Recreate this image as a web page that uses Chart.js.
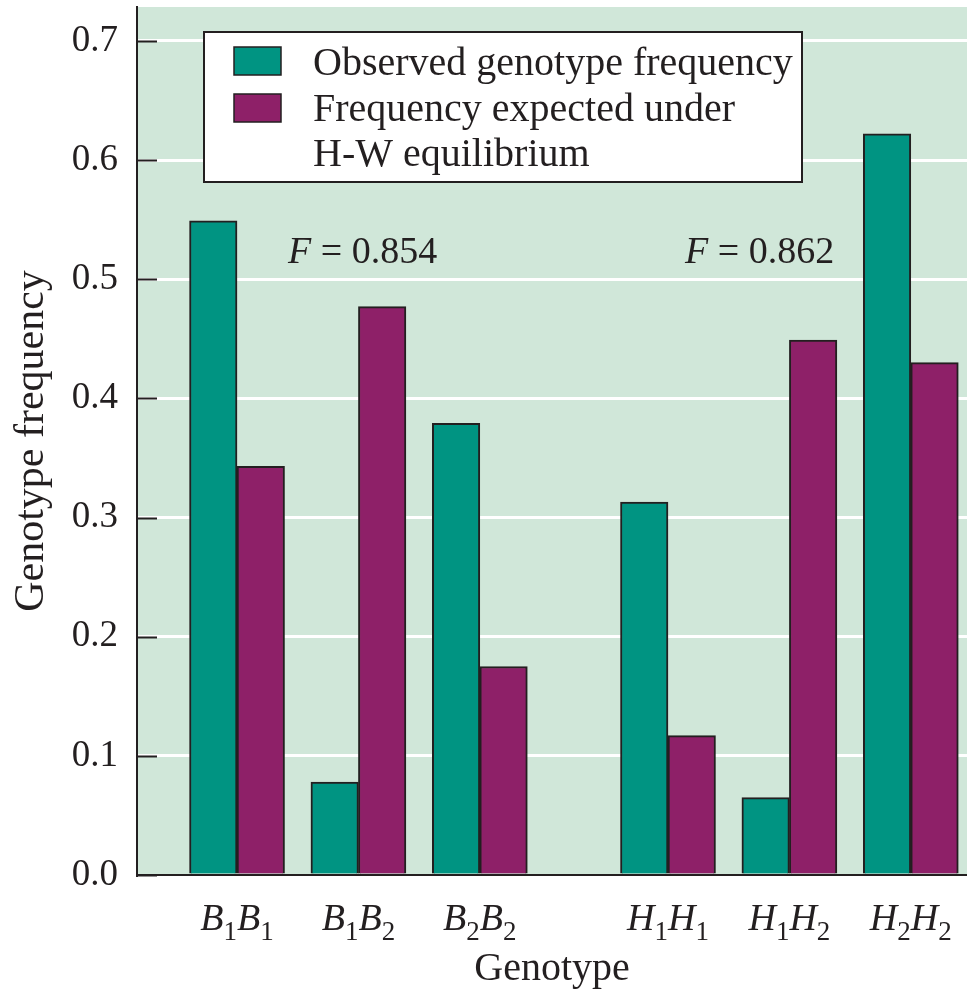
<!DOCTYPE html>
<html lang="en">
<head>
<meta charset="UTF-8">
<title>Genotype frequency</title>
<script src="https://cdn.jsdelivr.net/npm/chart.js@4.4.1/dist/chart.umd.min.js"></script>
<style>
  body { margin: 0; background: #fff; }
  #chart { display: block; }
</style>
</head>
<body>
<canvas id="chart" width="967" height="990"></canvas>
<script>
// values
const genotypes = ['B1B1', 'B1B2', 'B2B2', 'H1H1', 'H1H2', 'H2H2'];
const observed = [0.549, 0.078, 0.379, 0.313, 0.065, 0.622];
const expected = [0.343, 0.477, 0.175, 0.117, 0.449, 0.430];
const seriesNames = [['Observed genotype frequency'], ['Frequency expected under', 'H-W equilibrium']];
const yTicks = [0, 0.1, 0.2, 0.3, 0.4, 0.5, 0.6, 0.7];
const fValues = ['0.854', '0.862'];

// layout only: x slot of each genotype (wider gap between the two loci) and F label spots
const slots = [0, 1, 2, 3.55, 4.55, 5.55];
const fSpots = [{ x: 0.42, y: 0.514 }, { x: 3.69, y: 0.514 }];

const SERIF = '"Liberation Serif", "Times New Roman", serif';
const INK = '#231f20';
const TEAL = '#009482';
const MAGENTA = '#8e2068';
const PLOT_BG = '#d0e7d9';

const plotBackground = {
    id: 'plotBackground',
    beforeDraw(chart) {
        const { ctx, chartArea: a } = chart;
        ctx.save();
        ctx.fillStyle = PLOT_BG;
        ctx.fillRect(a.left, a.top, a.right - a.left, a.bottom - a.top);
        ctx.restore();
    }
};

const extras = {
    id: 'extras',
    afterDraw(chart) {
        const { ctx, chartArea: a } = chart;
        const xs = chart.scales.x, ys = chart.scales.y;
        ctx.save();

        // inward tick marks on the y axis
        ctx.strokeStyle = INK;
        ctx.lineWidth = 2;
        yTicks.forEach(v => {
            const y = Math.round(ys.getPixelForValue(v)) + 0.5;
            ctx.beginPath();
            ctx.moveTo(a.left, y);
            ctx.lineTo(a.left + 20, y);
            ctx.stroke();
        });

        // genotype labels with subscripts
        ctx.fillStyle = INK;
        ctx.textBaseline = 'alphabetic';
        ctx.textAlign = 'left';
        const bigFont = 'italic 38px ' + SERIF;
        const subFont = '27px ' + SERIF;
        genotypes.forEach((g, i) => {
            const parts = g.match(/[A-Z]\d/g);
            let w = 0;
            parts.forEach(p => {
                ctx.font = bigFont; w += ctx.measureText(p[0]).width;
                ctx.font = subFont; w += ctx.measureText(p[1]).width;
            });
            let x = xs.getPixelForValue(slots[i]) - w / 2;
            parts.forEach(p => {
                ctx.font = bigFont;
                ctx.fillText(p[0], x, 930);
                x += ctx.measureText(p[0]).width;
                ctx.font = subFont;
                ctx.fillText(p[1], x, 940);
                x += ctx.measureText(p[1]).width;
            });
        });

        // F values
        fSpots.forEach((s, i) => {
            let x = xs.getPixelForValue(s.x);
            const y = ys.getPixelForValue(s.y);
            ctx.font = 'italic 38px ' + SERIF;
            ctx.fillText('F', x, y);
            x += ctx.measureText('F').width;
            ctx.font = '38px ' + SERIF;
            ctx.fillText(' = ' + fValues[i], x, y);
        });

        // legend box
        const bx = a.left + 67, by = a.top + 25, bw = 598, bh = 150;
        ctx.fillStyle = '#fff';
        ctx.fillRect(bx, by, bw, bh);
        ctx.strokeStyle = INK;
        ctx.lineWidth = 2;
        ctx.strokeRect(bx, by, bw, bh);
        const colors = [TEAL, MAGENTA];
        ctx.font = '40px ' + SERIF;
        let line = 0;
        seriesNames.forEach((lines, i) => {
            const sy = by + 15 + i * 47;
            ctx.fillStyle = colors[i];
            ctx.fillRect(bx + 30, sy, 47, 28);
            ctx.lineWidth = 1.5;
            ctx.strokeRect(bx + 30, sy, 47, 28);
            ctx.fillStyle = INK;
            lines.forEach(t => {
                ctx.fillText(t, bx + 109, by + 43 + line * 45.5);
                line++;
            });
        });

        ctx.restore();
    }
};

new Chart(document.getElementById('chart'), {
    type: 'bar',
    data: {
        datasets: [
            {
                label: seriesNames[0].join(' '),
                data: slots.map((s, i) => ({ x: s, y: observed[i] })),
                backgroundColor: TEAL,
                borderColor: INK,
                borderWidth: 2,
                barThickness: 47.5
            },
            {
                label: seriesNames[1].join(' '),
                data: slots.map((s, i) => ({ x: s, y: expected[i] })),
                backgroundColor: MAGENTA,
                borderColor: INK,
                borderWidth: 2,
                barThickness: 47.5
            }
        ]
    },
    options: {
        responsive: false,
        animation: false,
        devicePixelRatio: 1,
        layout: { padding: { top: 7, left: 0, right: 0, bottom: 0 } },
        plugins: {
            legend: { display: false },
            tooltip: { enabled: false }
        },
        scales: {
            x: {
                type: 'linear',
                offset: false,
                min: -0.824,
                max: 6.013,
                grid: { display: false },
                border: { display: true, color: INK, width: 2 },
                ticks: { display: false },
                title: {
                    display: true,
                    text: 'Genotype',
                    color: INK,
                    font: { family: SERIF, size: 40, lineHeight: 1 },
                    padding: { top: 0, bottom: 1 }
                },
                afterFit: s => {
                    s.height = 115;
                    s.paddingLeft = 0;
                    s.paddingRight = 0;
                }
            },
            y: {
                min: 0,
                max: 0.7285,
                afterBuildTicks: s => { s.ticks = yTicks.map(v => ({ value: v })); },
                ticks: {
                    callback: v => v.toFixed(1),
                    color: INK,
                    font: { family: SERIF, size: 37 },
                    padding: 19
                },
                grid: {
                    color: c => (c.tick && c.tick.value === 0) ? 'rgba(0,0,0,0)' : '#ffffff',
                    lineWidth: 3,
                    drawTicks: false
                },
                border: { color: INK, width: 2 },
                title: {
                    display: true,
                    text: 'Genotype frequency',
                    color: INK,
                    font: { family: SERIF, size: 42, lineHeight: 1.2 },
                    padding: { top: 7, bottom: 0 }
                },
                afterFit: s => {
                    s.width = 137;
                    s.paddingTop = 0;
                    s.paddingBottom = 0;
                }
            }
        }
    },
    plugins: [plotBackground, extras]
});
</script>
</body>
</html>
